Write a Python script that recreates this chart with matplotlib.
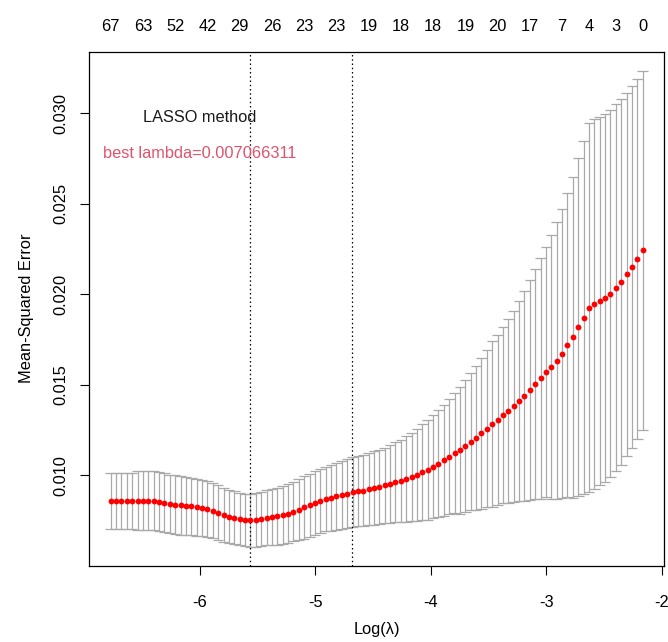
import matplotlib
matplotlib.use('Agg')
from matplotlib import pyplot as plt
from matplotlib.ticker import FormatStrFormatter
import numpy as np

# log(lambda) grid of the cv fit
log_lambda = [
    -6.7700, -6.7235, -6.6770, -6.6305, -6.5840, -6.5375, -6.4910, -6.4445, -6.3980, -6.3515,
    -6.3050, -6.2585, -6.2120, -6.1655, -6.1190, -6.0725, -6.0260, -5.9795, -5.9330, -5.8865,
    -5.8400, -5.7935, -5.7470, -5.7005, -5.6540, -5.6075, -5.5610, -5.5145, -5.4680, -5.4215,
    -5.3750, -5.3285, -5.2820, -5.2355, -5.1890, -5.1425, -5.0960, -5.0495, -5.0030, -4.9565,
    -4.9100, -4.8635, -4.8170, -4.7705, -4.7240, -4.6775, -4.6310, -4.5845, -4.5380, -4.4915,
    -4.4450, -4.3985, -4.3520, -4.3055, -4.2590, -4.2125, -4.1660, -4.1195, -4.0730, -4.0265,
    -3.9800, -3.9335, -3.8870, -3.8405, -3.7940, -3.7475, -3.7010, -3.6545, -3.6080, -3.5615,
    -3.5150, -3.4685, -3.4220, -3.3755, -3.3290, -3.2825, -3.2360, -3.1895, -3.1430, -3.0965,
    -3.0500, -3.0035, -2.9570, -2.9105, -2.8640, -2.8175, -2.7710, -2.7245, -2.6780, -2.6315,
    -2.5850, -2.5385, -2.4920, -2.4455, -2.3990, -2.3525, -2.3060, -2.2595, -2.2130, -2.1665,
]

# mean cross-validated error
cvm = [
    0.00859, 0.00859, 0.00859, 0.00859, 0.00859, 0.00859, 0.00859, 0.00859, 0.00859, 0.00855,
    0.00848, 0.00842, 0.00838, 0.00834, 0.00831, 0.00829, 0.00823, 0.00820, 0.00815, 0.00805,
    0.00794, 0.00780, 0.00772, 0.00765, 0.00759, 0.00754, 0.00752, 0.00754, 0.00759, 0.00765,
    0.00769, 0.00774, 0.00780, 0.00789, 0.00800, 0.00811, 0.00823, 0.00836, 0.00849, 0.00860,
    0.00870, 0.00877, 0.00884, 0.00892, 0.00899, 0.00906, 0.00912, 0.00916, 0.00924, 0.00930,
    0.00936, 0.00945, 0.00953, 0.00962, 0.00969, 0.00980, 0.00991, 0.01002, 0.01020, 0.01031,
    0.01048, 0.01065, 0.01083, 0.01103, 0.01124, 0.01140, 0.01162, 0.01186, 0.01208, 0.01232,
    0.01259, 0.01284, 0.01307, 0.01332, 0.01357, 0.01381, 0.01410, 0.01440, 0.01473, 0.01506,
    0.01536, 0.01571, 0.01599, 0.01633, 0.01673, 0.01719, 0.01763, 0.01821, 0.01872, 0.01927,
    0.01946, 0.01964, 0.01981, 0.02003, 0.02038, 0.02067, 0.02112, 0.02152, 0.02198, 0.02244,
]

# standard error of cv error
cvsd = [
    0.00153, 0.00153, 0.00153, 0.00153, 0.00153, 0.00163, 0.00163, 0.00163, 0.00163, 0.00163,
    0.00163, 0.00162, 0.00162, 0.00161, 0.00161, 0.00159, 0.00157, 0.00157, 0.00156, 0.00153,
    0.00151, 0.00148, 0.00146, 0.00146, 0.00145, 0.00145, 0.00146, 0.00147, 0.00149, 0.00152,
    0.00155, 0.00157, 0.00159, 0.00162, 0.00164, 0.00168, 0.00173, 0.00174, 0.00176, 0.00177,
    0.00178, 0.00182, 0.00186, 0.00189, 0.00191, 0.00193, 0.00194, 0.00197, 0.00200, 0.00203,
    0.00205, 0.00209, 0.00214, 0.00221, 0.00228, 0.00236, 0.00243, 0.00253, 0.00264, 0.00275,
    0.00286, 0.00297, 0.00307, 0.00319, 0.00331, 0.00351, 0.00364, 0.00380, 0.00397, 0.00417,
    0.00436, 0.00458, 0.00469, 0.00487, 0.00509, 0.00530, 0.00551, 0.00581, 0.00607, 0.00635,
    0.00667, 0.00693, 0.00731, 0.00765, 0.00799, 0.00839, 0.00886, 0.00933, 0.00977, 0.01021,
    0.01023, 0.01019, 0.01017, 0.01014, 0.01012, 0.01010, 0.01003, 0.01001, 0.00995, 0.00992,
]

# number of nonzero coefficients shown on the top axis
top_idx = [0, 6, 12, 18, 24, 30, 36, 42, 48, 54, 60, 66, 72, 78, 84, 89, 94, 99]
top_nz = ['67', '63', '52', '42', '29', '26', '23', '23', '19', '18',
          '18', '19', '20', '17', '7', '4', '3', '0']

lambda_min_log = -5.561
lambda_1se_log = -4.678

x_ticks = [-6, -5, -4, -3, -2]
y_ticks = [0.010, 0.015, 0.020, 0.025, 0.030]

plt.rcParams['font.family'] = ['Liberation Sans', 'DejaVu Sans']
fs = 11.8

x = np.array(log_lambda)
m = np.array(cvm)
sd = np.array(cvsd)
up = m + sd
lo = m - sd

fig = plt.figure(figsize=(6.68, 6.42), dpi=100)
ax = fig.add_axes([0.1338, 0.1188, 0.8602, 0.8007])

# error bars
barw = (x.max() - x.min()) * 0.01
ax.vlines(x, lo, up, color='darkgrey', lw=0.9, zorder=1)
ax.hlines(up, x - barw, x + barw, color='darkgrey', lw=0.9, zorder=1)
ax.hlines(lo, x - barw, x + barw, color='darkgrey', lw=0.9, zorder=1)

# mean curve
ax.plot(x, m, 'o', color='red', markersize=4.2, markeredgewidth=0, zorder=3)

# selected lambdas
for v in [lambda_min_log, lambda_1se_log]:
    ax.axvline(v, color='black', lw=0.9, linestyle=(0, (1.2, 2.2)), zorder=2)

ax.text(-6.0, 0.0298, 'LASSO method', ha='center', va='center', fontsize=fs, color='#1a1a1a')
ax.text(-6.0, 0.0278, 'best lambda=0.007066311', ha='center', va='center',
        fontsize=fs, color='#DF536B')

# limits like R's default 4% expansion
xr = x.max() - x.min()
ax.set_xlim(x.min() - 0.04 * xr, x.max() + 0.04 * xr)
yr = up.max() - lo.min()
ax.set_ylim(lo.min() - 0.04 * yr, up.max() + 0.04 * yr)

ax.set_xticks(x_ticks)
ax.set_yticks(y_ticks)
ax.xaxis.set_major_formatter(FormatStrFormatter('%d'))
ax.yaxis.set_major_formatter(FormatStrFormatter('%.3f'))
ax.tick_params(axis='both', direction='out', length=6.8, width=0.8,
               labelsize=fs, color='black')
ax.tick_params(axis='x', pad=14)
ax.tick_params(axis='y', pad=8, labelrotation=90)
for t in ax.get_yticklabels():
    t.set_va('center')

for spine in ['top', 'bottom', 'left', 'right']:
    ax.spines[spine].set_linewidth(0.9)
    ax.spines[spine].set_color('black')

ax.set_xlabel('Log(λ)', fontsize=fs, labelpad=9)
ax.set_ylabel('Mean-Squared Error', fontsize=fs, labelpad=14)

# top axis with model sizes
ax2 = ax.twiny()
ax2.set_xlim(ax.get_xlim())
ax2.set_xticks([log_lambda[i] for i in top_idx])
ax2.set_xticklabels(top_nz)
ax2.tick_params(axis='x', length=0, pad=13, labelsize=fs)
for spine in ['top', 'bottom', 'left', 'right']:
    ax2.spines[spine].set_visible(False)

fig.savefig('out.png', dpi=100, facecolor='white')
